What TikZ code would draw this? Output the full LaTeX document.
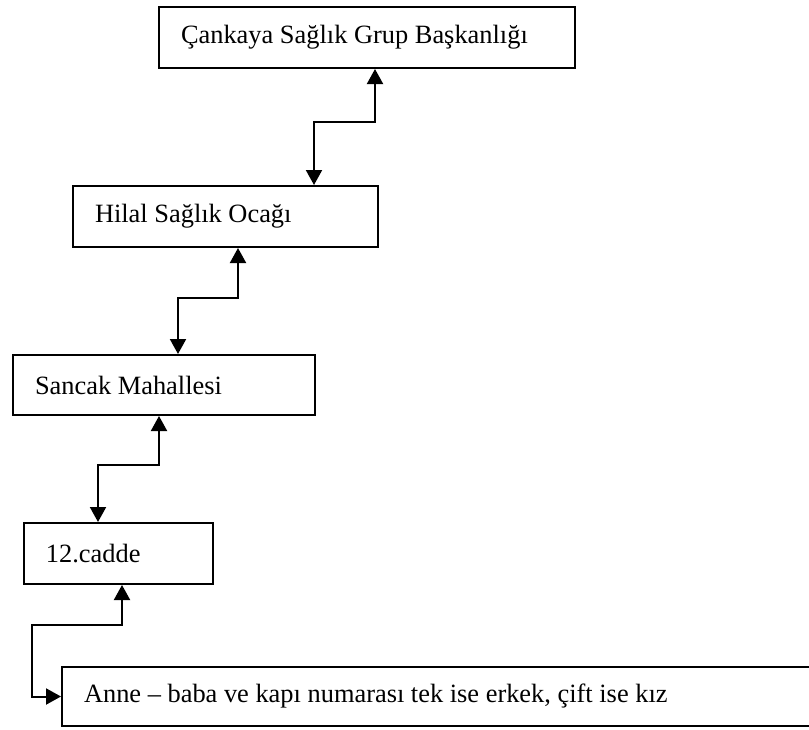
\documentclass[tikz,border=0pt]{standalone}
\usepackage{fontspec}
\setmainfont{Liberation Serif}
\usepackage{tikz}
\usetikzlibrary{calc,arrows.meta}

\tikzset{
    kutu/.style={draw, line width=1pt, anchor=north west, align=flush left,
        inner xsep=11pt, minimum height=30.5pt, font=\fontsize{13.2}{16}\selectfont},
    bag/.style={line width=1pt,
        {Triangle[width=8pt,length=7.5pt]}-{Triangle[width=8pt,length=7.5pt]}}
}

\begin{document}
\begin{tikzpicture}[x=0.5pt, y=-0.5pt]
    \useasboundingbox (0,0) rectangle (809,729);
    \clip (0,0) rectangle (809,729);

    % Kutular
    \node[kutu, text width=186pt] (cankaya) at (158,6) {Çankaya Sağlık Grup Başkanlığı};
    \node[kutu, text width=130.5pt] (hilal) at (72,185) {Hilal Sağlık Ocağı};
    \node[kutu, text width=129pt, minimum height=30pt] (sancak) at (12,354) {Sancak Mahallesi};
    \node[kutu, text width=72.5pt] (cadde) at (23,522) {12.cadde};
    \node[kutu, text width=373pt, minimum height=29.5pt] (anne) at (61,666)
        {Anne – baba ve kapı numarası tek ise erkek, çift ise kız};

    % Oklar
    \draw[bag] ($(hilal.north west)+(242,0)$) -- ++(0,-63)
        -| ($(cankaya.south west)+(217,0)$);
    \draw[bag] ($(sancak.north west)+(166,0)$) -- ++(0,-56)
        -| ($(hilal.south west)+(166,0)$);
    \draw[bag] ($(cadde.north west)+(75,0)$) -- ++(0,-57)
        -| ($(sancak.south west)+(147,0)$);
    \draw[bag] ($(cadde.south west)+(99,0)$) |- ++(-90,40) |- (anne.west);
\end{tikzpicture}
\end{document}
